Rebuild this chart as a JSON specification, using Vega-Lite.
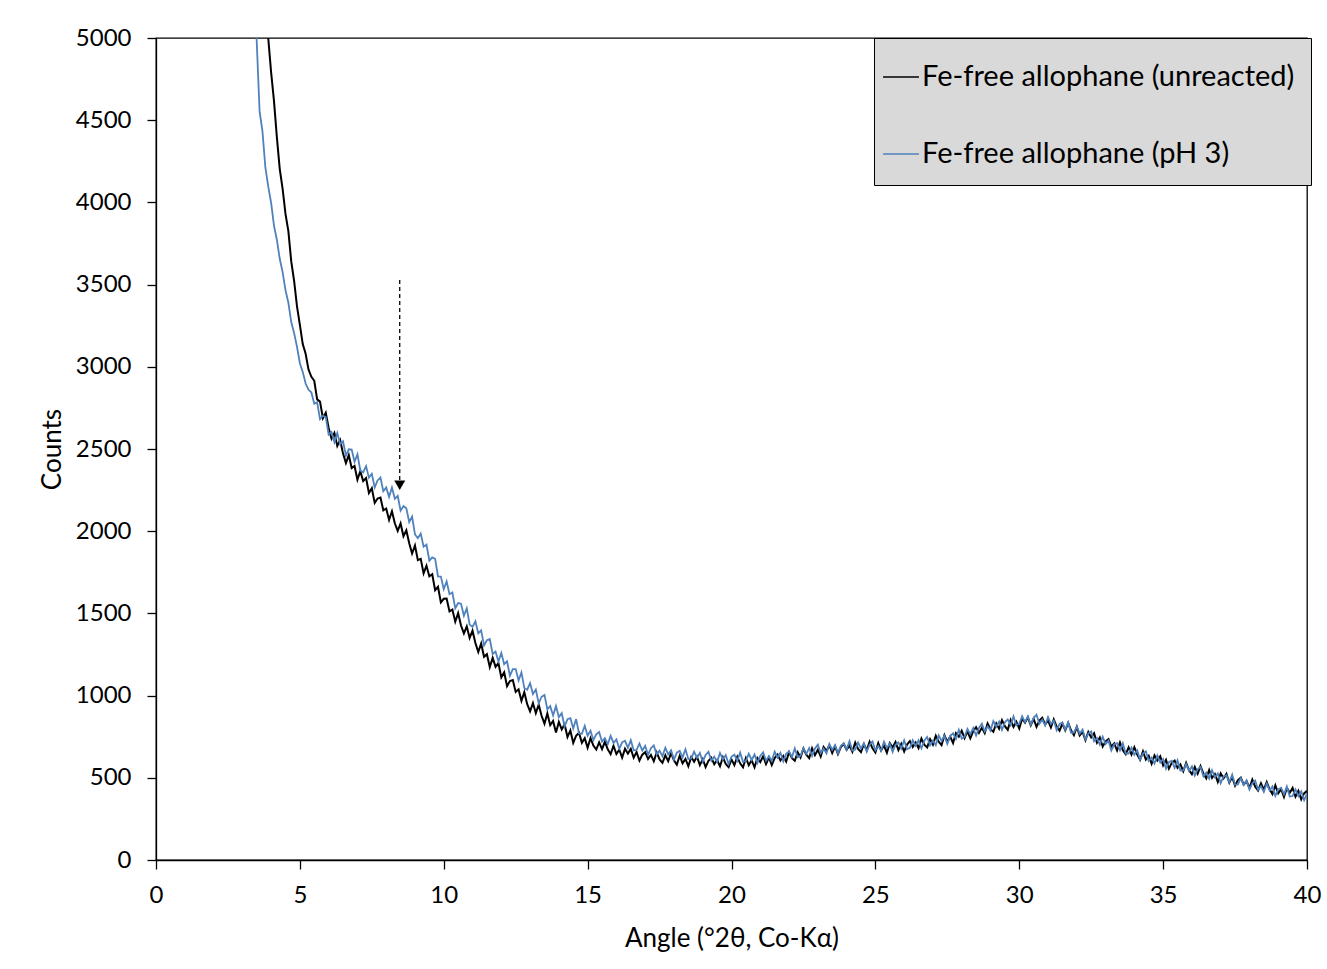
{
"$schema": "https://vega.github.io/schema/vega-lite/v6.json",
"width": 1151, "height": 822,
"autosize": {"type": "none"},
"padding": {"left": 156, "top": 38, "right": 20, "bottom": 109},
"background": "white",
"config": {"view": {"stroke": "#000000", "strokeWidth": 1.3}, "font": "Lato"},
"datasets": {
"arrow": [{"x": 8.47, "top": 3528, "end": 2311, "head": 2280}],
"xrd": [
{"x":3.4,"p":5350},{"x":3.5,"p":4980},{"x":3.6,"p":4554},{"x":3.7,"p":4432},
{"x":3.8,"p":4214,"u":5300},{"x":3.9,"p":4097,"u":5001},{"x":4.0,"p":3998,"u":4792},{"x":4.1,"p":3859,"u":4618},
{"x":4.2,"p":3773,"u":4397},{"x":4.3,"p":3657,"u":4204},{"x":4.4,"p":3576,"u":4083},{"x":4.5,"p":3466,"u":3930},
{"x":4.6,"p":3390,"u":3825},{"x":4.7,"p":3272,"u":3641},{"x":4.8,"p":3205,"u":3522},{"x":4.9,"p":3122,"u":3368},
{"x":5.0,"p":3022,"u":3255},{"x":5.1,"p":2969,"u":3138},{"x":5.2,"p":2898,"u":3079},{"x":5.3,"p":2861,"u":2983},
{"x":5.4,"p":2844,"u":2939},{"x":5.5,"p":2776,"u":2915},{"x":5.6,"p":2784,"u":2802},{"x":5.7,"p":2681,"u":2788},
{"x":5.8,"p":2702,"u":2688},{"x":5.9,"p":2694,"u":2721},{"x":6.0,"p":2588,"u":2628},{"x":6.1,"p":2603,"u":2562},
{"x":6.2,"p":2542,"u":2597},{"x":6.3,"p":2597,"u":2519},{"x":6.4,"p":2529,"u":2555},{"x":6.5,"p":2547,"u":2472},
{"x":6.6,"p":2460,"u":2414},{"x":6.7,"p":2498,"u":2463},{"x":6.8,"p":2496,"u":2384},{"x":6.9,"p":2422,"u":2397},
{"x":7.0,"p":2467,"u":2313},{"x":7.1,"p":2370,"u":2365},{"x":7.2,"p":2358,"u":2305},{"x":7.3,"p":2396,"u":2323},
{"x":7.4,"p":2326,"u":2233},{"x":7.5,"p":2349,"u":2262},{"x":7.6,"p":2266,"u":2172},{"x":7.7,"p":2309,"u":2199},
{"x":7.8,"p":2326,"u":2205},{"x":7.9,"p":2243,"u":2127},{"x":8.0,"p":2266,"u":2138},{"x":8.1,"p":2209,"u":2068},
{"x":8.2,"p":2266,"u":2121},{"x":8.3,"p":2197,"u":2048},{"x":8.4,"p":2215,"u":2002},{"x":8.5,"p":2125,"u":2047},
{"x":8.6,"p":2153,"u":1969},{"x":8.7,"p":2139,"u":2005},{"x":8.8,"p":2055,"u":1927},{"x":8.9,"p":2089,"u":1864},
{"x":9.0,"p":1980,"u":1913},{"x":9.1,"p":1958,"u":1824},{"x":9.2,"p":1986,"u":1832},{"x":9.3,"p":1906,"u":1743},
{"x":9.4,"p":1919,"u":1790},{"x":9.5,"p":1821,"u":1725},{"x":9.6,"p":1841,"u":1738},{"x":9.7,"p":1832,"u":1641},
{"x":9.8,"p":1725,"u":1662},{"x":9.9,"p":1724,"u":1567},{"x":10.0,"p":1647,"u":1589},{"x":10.1,"p":1694,"u":1590},
{"x":10.2,"p":1617,"u":1512},{"x":10.3,"p":1627,"u":1523},{"x":10.4,"p":1531,"u":1450},{"x":10.5,"p":1563,"u":1501},
{"x":10.6,"p":1559,"u":1426},{"x":10.7,"p":1486,"u":1378},{"x":10.8,"p":1531,"u":1421},{"x":10.9,"p":1432,"u":1351},
{"x":11.0,"p":1418,"u":1395},{"x":11.1,"p":1452,"u":1320},{"x":11.2,"p":1378,"u":1265},{"x":11.3,"p":1397,"u":1317},
{"x":11.4,"p":1305,"u":1236},{"x":11.5,"p":1337,"u":1252},{"x":11.6,"p":1344,"u":1173},{"x":11.7,"p":1253,"u":1230},
{"x":11.8,"p":1268,"u":1175},{"x":11.9,"p":1207,"u":1198},{"x":12.0,"p":1260,"u":1111},{"x":12.1,"p":1191,"u":1142},
{"x":12.2,"p":1209,"u":1057},{"x":12.3,"p":1121,"u":1089},{"x":12.4,"p":1161,"u":1095},{"x":12.5,"p":1161,"u":1022},
{"x":12.6,"p":1092,"u":1038},{"x":12.7,"p":1141,"u":968},{"x":12.8,"p":1046,"u":1021},{"x":12.9,"p":1036,"u":948},
{"x":13.0,"p":1076,"u":904},{"x":13.1,"p":1010,"u":955},{"x":13.2,"p":1037,"u":893},{"x":13.3,"p":953,"u":945},
{"x":13.4,"p":993,"u":877},{"x":13.5,"p":1004,"u":829},{"x":13.6,"p":917,"u":891},{"x":13.7,"p":936,"u":820},
{"x":13.8,"p":879,"u":846},{"x":13.9,"p":936,"u":775},{"x":14.0,"p":869,"u":840},{"x":14.1,"p":893,"u":794},
{"x":14.2,"p":811,"u":826},{"x":14.3,"p":857,"u":748},{"x":14.4,"p":863,"u":788},{"x":14.5,"p":800,"u":712},
{"x":14.6,"p":857,"u":756},{"x":14.7,"p":770,"u":774},{"x":14.8,"p":768,"u":713},{"x":14.9,"p":816,"u":741},
{"x":15.0,"p":756,"u":683},{"x":15.1,"p":786,"u":741},{"x":15.2,"p":729,"u":696},{"x":15.3,"p":765,"u":672},
{"x":15.4,"p":779,"u":715},{"x":15.5,"p":720,"u":674},{"x":15.6,"p":741,"u":719},{"x":15.7,"p":705,"u":674},
{"x":15.8,"p":755,"u":644},{"x":15.9,"p":712,"u":695},{"x":16.0,"p":734,"u":645},{"x":16.1,"p":677,"u":671},
{"x":16.2,"p":716,"u":623},{"x":16.3,"p":725,"u":677},{"x":16.4,"p":683,"u":647},{"x":16.5,"p":729,"u":676},
{"x":16.6,"p":667,"u":622},{"x":16.7,"p":669,"u":657},{"x":16.8,"p":708,"u":605},{"x":16.9,"p":666,"u":641},
{"x":17.0,"p":694,"u":656},{"x":17.1,"p":640,"u":615},{"x":17.2,"p":680,"u":639},{"x":17.3,"p":697,"u":601},
{"x":17.4,"p":641,"u":654},{"x":17.5,"p":665,"u":612},{"x":17.6,"p":631,"u":591},{"x":17.7,"p":683,"u":637},
{"x":17.8,"p":642,"u":601},{"x":17.9,"p":667,"u":650},{"x":18.0,"p":611,"u":606},{"x":18.1,"p":653,"u":580},
{"x":18.2,"p":664,"u":634},{"x":18.3,"p":625,"u":588},{"x":18.4,"p":673,"u":615},{"x":18.5,"p":614,"u":570},
{"x":18.6,"p":618,"u":626},{"x":18.7,"p":659,"u":598},{"x":18.8,"p":621,"u":629},{"x":18.9,"p":651,"u":577},
{"x":19.0,"p":598,"u":614},{"x":19.1,"p":639,"u":565},{"x":19.2,"p":658,"u":604},{"x":19.3,"p":604,"u":622},
{"x":19.4,"p":629,"u":583},{"x":19.5,"p":597,"u":608},{"x":19.6,"p":651,"u":570},{"x":19.7,"p":612,"u":625},
{"x":19.8,"p":638,"u":584},{"x":19.9,"p":584,"u":565},{"x":20.0,"p":628,"u":612},{"x":20.1,"p":641,"u":577},
{"x":20.2,"p":603,"u":628},{"x":20.3,"p":653,"u":588},{"x":20.4,"p":597,"u":564},{"x":20.5,"p":603,"u":621},
{"x":20.6,"p":646,"u":577},{"x":20.7,"p":609,"u":607},{"x":20.8,"p":642,"u":564},{"x":20.9,"p":591,"u":621},
{"x":21.0,"p":633,"u":596},{"x":21.1,"p":655,"u":631},{"x":21.2,"p":604,"u":583},{"x":21.3,"p":631,"u":624},
{"x":21.4,"p":602,"u":578},{"x":21.5,"p":659,"u":620},{"x":21.6,"p":623,"u":641},{"x":21.7,"p":652,"u":605},
{"x":21.8,"p":600,"u":633},{"x":21.9,"p":646,"u":599},{"x":22.0,"p":661,"u":656},{"x":22.1,"p":626,"u":620},
{"x":22.2,"p":679,"u":604},{"x":22.3,"p":625,"u":656},{"x":22.4,"p":634,"u":624},{"x":22.5,"p":680,"u":678},
{"x":22.6,"p":646,"u":641},{"x":22.7,"p":681,"u":620},{"x":22.8,"p":633,"u":680},{"x":22.9,"p":678,"u":638},
{"x":23.0,"p":701,"u":671},{"x":23.1,"p":650,"u":629},{"x":23.2,"p":678,"u":688},{"x":23.3,"p":649,"u":664},
{"x":23.4,"p":706,"u":698},{"x":23.5,"p":670,"u":651},{"x":23.6,"p":699,"u":691},{"x":23.7,"p":648,"u":645},
{"x":23.8,"p":694,"u":686},{"x":23.9,"p":709,"u":707},{"x":24.0,"p":673,"u":670},{"x":24.1,"p":723,"u":696},
{"x":24.2,"p":666,"u":659},{"x":24.3,"p":672,"u":714},{"x":24.4,"p":715,"u":675},{"x":24.5,"p":678,"u":656},
{"x":24.6,"p":710,"u":704},{"x":24.7,"p":659,"u":668},{"x":24.8,"p":701,"u":719},{"x":24.9,"p":721,"u":679},
{"x":25.0,"p":668,"u":654},{"x":25.1,"p":694,"u":711},{"x":25.2,"p":664,"u":666},{"x":25.3,"p":719,"u":696},
{"x":25.4,"p":682,"u":653},{"x":25.5,"p":709,"u":711},{"x":25.6,"p":657,"u":685},{"x":25.7,"p":701,"u":718},
{"x":25.8,"p":715,"u":669},{"x":25.9,"p":677,"u":707},{"x":26.0,"p":728,"u":660},{"x":26.1,"p":674,"u":702},
{"x":26.2,"p":682,"u":723},{"x":26.3,"p":728,"u":687},{"x":26.4,"p":694,"u":715},{"x":26.5,"p":728,"u":681},
{"x":26.6,"p":680,"u":739},{"x":26.7,"p":725,"u":701},{"x":26.8,"p":748,"u":685},{"x":26.9,"p":697,"u":735},
{"x":27.0,"p":726,"u":702},{"x":27.1,"p":699,"u":756},{"x":27.2,"p":758,"u":720},{"x":27.3,"p":724,"u":699},
{"x":27.4,"p":755,"u":759},{"x":27.5,"p":706,"u":718},{"x":27.6,"p":754,"u":751},{"x":27.7,"p":771,"u":711},
{"x":27.8,"p":737,"u":772},{"x":27.9,"p":791,"u":750},{"x":28.0,"p":738,"u":786},{"x":28.1,"p":749,"u":741},
{"x":28.2,"p":797,"u":783},{"x":28.3,"p":766,"u":740},{"x":28.4,"p":803,"u":784},{"x":28.5,"p":757,"u":808},
{"x":28.6,"p":804,"u":773},{"x":28.7,"p":829,"u":804},{"x":28.8,"p":782,"u":772},{"x":28.9,"p":813,"u":831},
{"x":29.0,"p":787,"u":796},{"x":29.1,"p":845,"u":780},{"x":29.2,"p":811,"u":831},{"x":29.3,"p":841,"u":798},
{"x":29.4,"p":791,"u":851},{"x":29.5,"p":838,"u":814},{"x":29.6,"p":855,"u":792},{"x":29.7,"p":820,"u":851},
{"x":29.8,"p":873,"u":809},{"x":29.9,"p":820,"u":841},{"x":30.0,"p":829,"u":800},{"x":30.1,"p":874,"u":859},
{"x":30.2,"p":839,"u":835},{"x":30.3,"p":873,"u":868},{"x":30.4,"p":823,"u":819},{"x":30.5,"p":865,"u":858},
{"x":30.6,"p":884,"u":810},{"x":30.7,"p":829,"u":848},{"x":30.8,"p":853,"u":865},{"x":30.9,"p":819,"u":824},
{"x":31.0,"p":870,"u":848},{"x":31.1,"p":827,"u":806},{"x":31.2,"p":848,"u":856},{"x":31.3,"p":790,"u":811},
{"x":31.4,"p":828,"u":787},{"x":31.5,"p":836,"u":830},{"x":31.6,"p":792,"u":789},{"x":31.7,"p":837,"u":834},
{"x":31.8,"p":774,"u":789},{"x":31.9,"p":775,"u":759},{"x":32.0,"p":812,"u":810},{"x":32.1,"p":768,"u":758},
{"x":32.2,"p":793,"u":780},{"x":32.3,"p":734,"u":729},{"x":32.4,"p":769,"u":779},{"x":32.5,"p":782,"u":746},
{"x":32.6,"p":722,"u":771},{"x":32.7,"p":741,"u":714},{"x":32.8,"p":702,"u":745},{"x":32.9,"p":750,"u":690},
{"x":33.0,"p":705,"u":722},{"x":33.1,"p":726,"u":735},{"x":33.2,"p":666,"u":689},{"x":33.3,"p":704,"u":709},
{"x":33.4,"p":711,"u":666},{"x":33.5,"p":667,"u":715},{"x":33.6,"p":710,"u":668},{"x":33.7,"p":647,"u":643},
{"x":33.8,"p":647,"u":685},{"x":33.9,"p":683,"u":642},{"x":34.0,"p":640,"u":686},{"x":34.1,"p":667,"u":641},
{"x":34.2,"p":610,"u":610},{"x":34.3,"p":647,"u":661},{"x":34.4,"p":661,"u":610},{"x":34.5,"p":603,"u":634},
{"x":34.6,"p":623,"u":585},{"x":34.7,"p":587,"u":636},{"x":34.8,"p":636,"u":605},{"x":34.9,"p":593,"u":631},
{"x":35.0,"p":614,"u":576},{"x":35.1,"p":556,"u":609},{"x":35.2,"p":595,"u":556},{"x":35.3,"p":604,"u":591},
{"x":35.4,"p":561,"u":605},{"x":35.5,"p":606,"u":561},{"x":35.6,"p":544,"u":582},{"x":35.7,"p":545,"u":540},
{"x":35.8,"p":584,"u":591},{"x":35.9,"p":542,"u":546},{"x":36.0,"p":569,"u":522},{"x":36.1,"p":514,"u":566},
{"x":36.2,"p":551,"u":525},{"x":36.3,"p":567,"u":571},{"x":36.4,"p":509,"u":526},{"x":36.5,"p":531,"u":497},
{"x":36.6,"p":495,"u":548},{"x":36.7,"p":546,"u":499},{"x":36.8,"p":503,"u":523},{"x":36.9,"p":526,"u":475},
{"x":37.0,"p":468,"u":527},{"x":37.1,"p":508,"u":497},{"x":37.2,"p":516,"u":524},{"x":37.3,"p":474,"u":470},
{"x":37.4,"p":519,"u":504},{"x":37.5,"p":458,"u":452},{"x":37.6,"p":460,"u":486},{"x":37.7,"p":498,"u":501},
{"x":37.8,"p":457,"u":458},{"x":37.9,"p":484,"u":479},{"x":38.0,"p":429,"u":438},{"x":38.1,"p":467,"u":489},
{"x":38.2,"p":483,"u":446},{"x":38.3,"p":427,"u":423},{"x":38.4,"p":449,"u":467},{"x":38.5,"p":414,"u":428},
{"x":38.6,"p":465,"u":474},{"x":38.7,"p":423,"u":430},{"x":38.8,"p":447,"u":401},{"x":38.9,"p":390,"u":454},
{"x":39.0,"p":430,"u":405},{"x":39.1,"p":440,"u":431},{"x":39.2,"p":399,"u":384},{"x":39.3,"p":446,"u":438},
{"x":39.4,"p":386,"u":409},{"x":39.5,"p":389,"u":438},{"x":39.6,"p":429,"u":385},{"x":39.7,"p":389,"u":420},
{"x":39.8,"p":418,"u":369},{"x":39.9,"p":364,"u":405},{"x":40.0,"p":403,"u":421}
]},
"layer": [
{
"data": {"name": "xrd"},
"transform": [{"fold": ["u", "p"], "as": ["series", "counts"]}, {"filter": "isValid(datum.counts) && datum.series == 'u'"}],
"mark": {"type": "line", "strokeWidth": 2, "clip": true},
"encoding": {
"x": {"field": "x", "type": "quantitative", "scale": {"domain": [0, 40], "nice": false, "zero": false},
"axis": {"title": "Angle (°2θ, Co-Kα)", "values": [0,5,10,15,20,25,30,35,40], "grid": false, "domainColor": "#000000", "domainWidth": 1.3, "tickColor": "#000000", "tickWidth": 1.3, "tickSize": 9, "labelFontSize": 24, "labelColor": "#000000", "labelPadding": 14, "labelFlush": false, "titleFontSize": 26, "titleFontWeight": "normal", "titleColor": "#000000", "titlePadding": 18}},
"y": {"field": "counts", "type": "quantitative", "scale": {"domain": [0, 5000], "nice": false},
"axis": {"title": "Counts", "format": "d", "values": [0,500,1000,1500,2000,2500,3000,3500,4000,4500,5000], "grid": false, "domainColor": "#000000", "domainWidth": 1.3, "tickColor": "#000000", "tickWidth": 1.3, "tickSize": 9, "labelFontSize": 24, "labelColor": "#000000", "labelPadding": 16, "labelFlush": false, "titleFontSize": 26, "titleFontWeight": "normal", "titleColor": "#000000", "titlePadding": 10}},
"color": {"field": "series", "type": "nominal",
"scale": {"domain": ["u", "p"], "range": ["#000000", "#4f81bd"]},
"legend": {"title": null, "orient": "none", "legendX": 718, "legendY": 0, "fillColor": "#d9d9d9", "strokeColor": "#000000", "padding": 16, "symbolType": "M-1.36,0H0.27", "symbolSize": 1936, "symbolStrokeWidth": 1.5, "labelFontSize": 29, "labelFont": "Lato", "labelColor": "#000000", "labelOffset": -14, "rowPadding": 39, "labelLimit": 600,
"labelExpr": "datum.value == 'u' ? 'Fe-free allophane (unreacted)' : 'Fe-free allophane (pH 3)'"}}
}
},
{
"data": {"name": "xrd"},
"transform": [{"fold": ["u", "p"], "as": ["series", "counts"]}, {"filter": "isValid(datum.counts) && datum.series == 'p'"}],
"mark": {"type": "line", "strokeWidth": 1.8, "clip": true},
"encoding": {
"x": {"field": "x", "type": "quantitative"},
"y": {"field": "counts", "type": "quantitative"},
"color": {"field": "series", "type": "nominal"}
}
},
{
"data": {"name": "arrow"},
"mark": {"type": "rule", "color": "#000000", "strokeWidth": 1.3, "strokeDash": [4, 3]},
"encoding": {
"x": {"field": "x", "type": "quantitative"},
"y": {"field": "top", "type": "quantitative"},
"y2": {"field": "end"}
}
},
{
"data": {"name": "arrow"},
"mark": {"type": "point", "shape": "triangle-down", "filled": true, "color": "#000000", "size": 121, "opacity": 1},
"encoding": {
"x": {"field": "x", "type": "quantitative"},
"y": {"field": "head", "type": "quantitative"}
}
}
]
}
